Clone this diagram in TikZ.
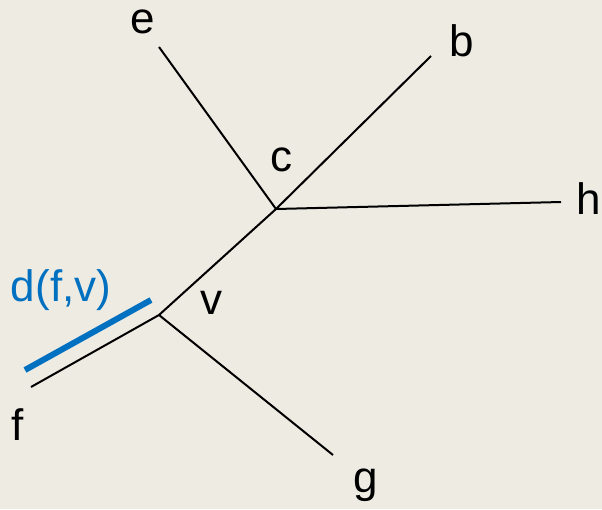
\documentclass[tikz,border=0pt]{standalone}
\usepackage{fontspec}
\setmainfont{Liberation Sans}
\usepackage{xcolor}
\usetikzlibrary{positioning}
\definecolor{paper}{HTML}{EEEBE3}
\definecolor{distblue}{HTML}{0070C0}

\begin{document}
\begin{tikzpicture}[x=1pt, y=-1pt, edge/.style={line width=2pt, black},
    leaf/.style={font=\fontsize{44}{50}\selectfont, inner sep=0pt}]
    \fill[paper] (0,0) rectangle (602,509);
    \useasboundingbox (0,0) rectangle (602,509);

    % Inner vertices
    \coordinate (c) at (276,209);
    \coordinate (v) at (159,315);

    % Leaf ends of the branches
    \coordinate (e) at (159,47);
    \coordinate (b) at (431,56);
    \coordinate (h) at (561,202);
    \coordinate (f) at (31,387);
    \coordinate (g) at (333,455);

    % Labels
    \node[leaf] (le) at (143,22) {e};
    \node[leaf] (lb) at (462,41) {b};
    \node[leaf] (lh) at (589,199) {h};
    \node[leaf] (lc) at (281,160) {c};
    \node[leaf] (lv) at (211,303) {v};
    \node[leaf] (lf) at (18,425) {f};
    \node[leaf] (lg) at (366,485) {g};

    \draw[edge]
        (c) -- (e)
        (c) -- (b)
        (c) -- (h)
        (c) -- (v)
        (v) -- (f)
        (v) -- (g);

    % Distance d(f,v) marked beside the edge
    \coordinate (d1) at (25,370);
    \coordinate (d2) at (151,300);
    \draw[distblue, line width=6pt] (d1) -- (d2);
    \node[leaf, text=distblue] (ld) at (61,290) {d(f,v)};
\end{tikzpicture}
\end{document}
